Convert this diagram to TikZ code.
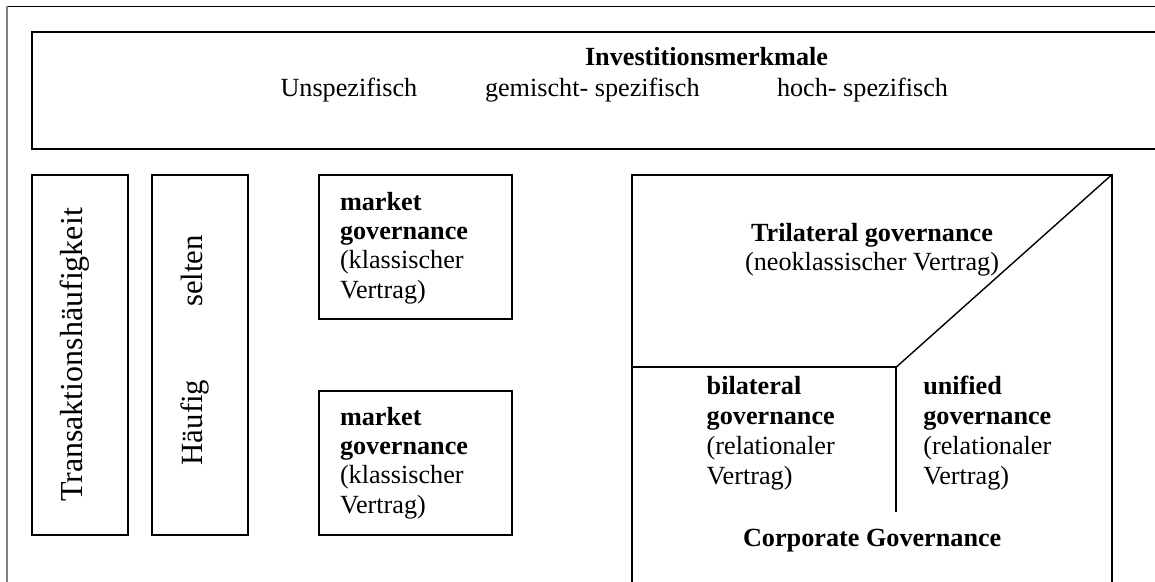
\documentclass[tikz,border=0pt]{standalone}
\usepackage{fontspec}
\setmainfont{Liberation Serif}
\begin{document}
\begin{tikzpicture}[x=1pt,y=-1pt,
  panel/.style={draw=black, line width=2pt, inner sep=0pt, outer sep=0pt, rectangle},
  rule/.style={draw=black, line width=1.8pt},
  slant/.style={draw=black, line width=1.4pt},
  txt/.style={inner sep=0pt, outer sep=0pt, font=\fontsize{26.2}{29.4}\selectfont},
  bigtxt/.style={inner sep=0pt, outer sep=0pt, font=\fontsize{30.8}{34}\selectfont},
  hugetxt/.style={inner sep=0pt, outer sep=0pt, font=\fontsize{32}{36}\selectfont}]
\useasboundingbox (0,0) rectangle (1155,581);
\clip (0,0) rectangle (1155,581);

% page frame
\draw[black, line width=1pt] (7,6) -- (1170,6);
\draw[black!50, line width=2pt] (7,5.5) -- (7,600);

% investment characteristics header
\draw[panel] (31.5,31.5) rectangle (1175,149);
\node[txt, anchor=base west] (invest) at (585,65) {\textbf{Investitionsmerkmale}};
\node[txt, anchor=base west] (unsp) at (280.5,96.7) {Unspezifisch};
\node[txt, anchor=base west] (gem) at (485,96.7) {gemischt- spezifisch};
\node[txt, anchor=base west] (hoch) at (777,96.7) {hoch- spezifisch};

% frequency columns
\node[panel, minimum width=96, minimum height=360] (trans) at (80,355) {};
\node[panel, minimum width=96, minimum height=360] (freq) at (200,355) {};
\node[hugetxt, rotate=90, anchor=base] (transtxt) at (82,355) {Transaktionshäufigkeit};
\node[bigtxt, rotate=90, anchor=base] (selten) at (202.5,271) {selten};
\node[bigtxt, rotate=90, anchor=base] (haeufig) at (202.5,422.5) {Häufig};

% market governance boxes
\node[panel, minimum width=192.3, minimum height=144] (mk1) at (415.6,247) {};
\node[panel, minimum width=192.3, minimum height=144] (mk2) at (415.6,463) {};
\node[txt, anchor=base west] (mk1txt) at (340,210)
  {\parbox[t]{160pt}{\raggedright\textbf{market}\\\textbf{governance}\\(klassischer\\Vertrag)}};
\node[txt, anchor=base west] (mk2txt) at (340,425)
  {\parbox[t]{160pt}{\raggedright\textbf{market}\\\textbf{governance}\\(klassischer\\Vertrag)}};

% corporate governance block
\coordinate (gBL) at (632.3,600);
\coordinate (gTL) at (632.3,175);
\coordinate (gTR) at (1111.5,175);
\coordinate (gBR) at (1111.5,600);
\coordinate (gL) at (632.3,367.3);
\coordinate (gMid) at (896,367.3);
\coordinate (gEnd) at (896,512);
\draw[panel] (gBL) -- (gTL) -- (gTR) -- (gBR);
\draw[slant] (gTR) -- (gMid);
\draw[rule] (gL) -- (gMid) -- (gEnd);

\node[txt, anchor=base] (tri) at (872,241)
  {\parbox[t]{300pt}{\centering\textbf{Trilateral governance}\\(neoklassischer Vertrag)}};
\node[txt, anchor=base west] (bil) at (706.7,394.3)
  {\parbox[t]{170pt}{\raggedright\fontsize{26.2}{30.2}\selectfont\textbf{bilateral}\\\textbf{governance}\\(relationaler\\Vertrag)}};
\node[txt, anchor=base west] (uni) at (923.3,394.3)
  {\parbox[t]{170pt}{\raggedright\fontsize{26.2}{30.2}\selectfont\textbf{unified}\\\textbf{governance}\\(relationaler\\Vertrag)}};
\node[txt, anchor=base] (corp) at (872.2,546.7) {\textbf{Corporate Governance}};
\end{tikzpicture}
\end{document}
